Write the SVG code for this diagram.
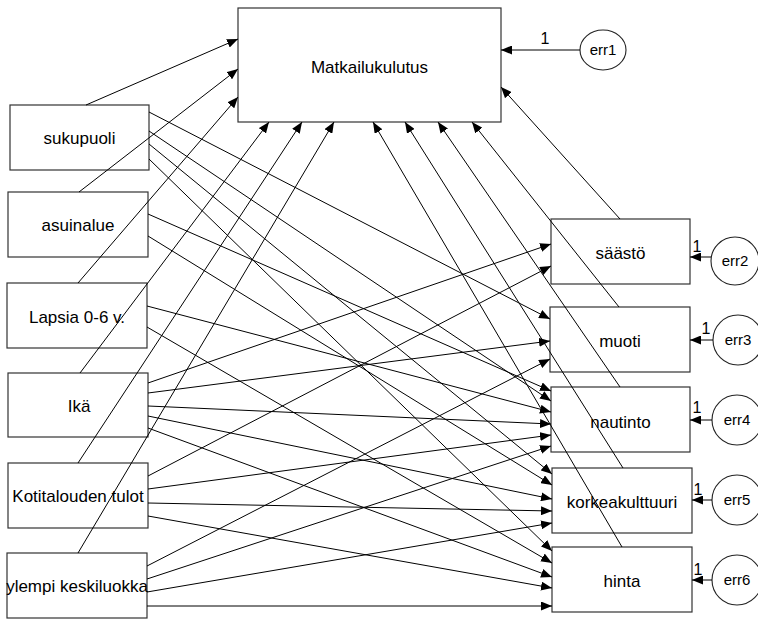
<svg xmlns="http://www.w3.org/2000/svg" width="758" height="619" viewBox="0 0 758 619">
<defs>
<style>
.box{fill:#fff;stroke:#333;stroke-width:1.2}
.err{fill:#fff;stroke:#222;stroke-width:1.1}
.lbl{font-family:"Liberation Sans",Arial,sans-serif;font-size:17px;fill:#000;text-anchor:middle}
.el{font-family:"Liberation Sans",Arial,sans-serif;font-size:15px;fill:#000;text-anchor:middle}
.one{font-family:"Liberation Sans",Arial,sans-serif;font-size:16px;fill:#000;text-anchor:middle}
.c line{stroke:#000;stroke-width:1;marker-end:url(#ah)}
</style>
<marker id="ah" markerUnits="userSpaceOnUse" markerWidth="11" markerHeight="9" refX="11" refY="4.5" orient="auto">
<path d="M0,0 L11,4.5 L0,9 z" fill="#000"/>
</marker>
</defs>
<rect width="758" height="619" fill="#fff"/>

<g id="matkailukulutus"><rect class="box" x="238" y="8" width="263" height="114"/><text class="lbl" x="369.5" y="73">Matkailukulutus</text></g>
<g id="sukupuoli"><rect class="box" x="10" y="105" width="139" height="65"/><text class="lbl" x="79.5" y="144">sukupuoli</text></g>
<g id="asuinalue"><rect class="box" x="8" y="192" width="140" height="65"/><text class="lbl" x="78" y="231">asuinalue</text></g>
<g id="lapsia"><rect class="box" x="7" y="283" width="140" height="65"/><text class="lbl" x="77" y="323">Lapsia 0-6 v.</text></g>
<g id="ika"><rect class="box" x="8" y="373" width="140" height="64"/><text class="lbl" x="79" y="412">Ikä</text></g>
<g id="kotitalous"><rect class="box" x="8" y="463" width="140" height="65"/><text class="lbl" x="78" y="502">Kotitalouden tulot</text></g>
<g id="ylempi"><rect class="box" x="7" y="553" width="140" height="65"/><text class="lbl" x="77" y="592">ylempi keskiluokka</text></g>

<g id="saasto"><rect class="box" x="551" y="219" width="139" height="65"/><text class="lbl" x="620.5" y="259">säästö</text></g>
<g id="muoti"><rect class="box" x="550" y="307" width="140" height="65"/><text class="lbl" x="620" y="347">muoti</text></g>
<g id="nautinto"><rect class="box" x="551" y="387" width="139" height="65"/><text class="lbl" x="620.5" y="428">nautinto</text></g>
<g id="korkeakulttuuri"><rect class="box" x="552" y="468" width="140" height="65"/><text class="lbl" x="622" y="508">korkeakulttuuri</text></g>
<g id="hinta"><rect class="box" x="552" y="547" width="140" height="65"/><text class="lbl" x="622" y="587">hinta</text></g>

<g id="err1"><ellipse class="err" cx="603" cy="50" rx="23" ry="20"/><text class="el" x="603" y="55">err1</text></g>
<g id="err2"><circle class="err" cx="735" cy="261" r="24"/><text class="el" x="735" y="266">err2</text></g>
<g id="err3"><circle class="err" cx="738" cy="340" r="25"/><text class="el" x="738" y="345">err3</text></g>
<g id="err4"><circle class="err" cx="737" cy="420" r="25"/><text class="el" x="737" y="425">err4</text></g>
<g id="err5"><circle class="err" cx="737" cy="500" r="25"/><text class="el" x="737" y="505">err5</text></g>
<g id="err6"><circle class="err" cx="737" cy="580" r="25"/><text class="el" x="737" y="585">err6</text></g>

<g id="connectors" class="c">
<line x1="86" y1="105" x2="238" y2="39"/>
<line x1="79" y1="192" x2="238" y2="69"/>
<line x1="78" y1="283" x2="238" y2="97"/>
<line x1="80" y1="373" x2="269" y2="122"/>
<line x1="78" y1="463" x2="302" y2="122"/>
<line x1="78" y1="553" x2="334" y2="122"/>
<line x1="620" y1="219" x2="501" y2="87"/>
<line x1="619" y1="307" x2="472" y2="122"/>
<line x1="620" y1="387" x2="438" y2="122"/>
<line x1="623" y1="468" x2="405" y2="122"/>
<line x1="622" y1="547" x2="373" y2="122"/>

<line x1="149" y1="112" x2="550" y2="319"/>
<line x1="149" y1="131" x2="551" y2="401"/>
<line x1="149" y1="144" x2="552" y2="474"/>
<line x1="149" y1="159" x2="552" y2="551"/>
<line x1="148" y1="214" x2="551" y2="391"/>
<line x1="148" y1="236" x2="552" y2="485"/>
<line x1="147" y1="306" x2="551" y2="412"/>
<line x1="147" y1="327" x2="552" y2="563"/>
<line x1="148" y1="383" x2="551" y2="244"/>
<line x1="148" y1="393" x2="550" y2="341"/>
<line x1="148" y1="406" x2="551" y2="424"/>
<line x1="148" y1="416" x2="552" y2="499"/>
<line x1="148" y1="428" x2="552" y2="577"/>
<line x1="148" y1="476" x2="551" y2="266"/>
<line x1="148" y1="489" x2="551" y2="435"/>
<line x1="148" y1="503" x2="552" y2="511"/>
<line x1="148" y1="516" x2="552" y2="588"/>
<line x1="147" y1="566" x2="550" y2="359"/>
<line x1="147" y1="579" x2="551" y2="446"/>
<line x1="147" y1="592" x2="552" y2="523"/>
<line x1="147" y1="606" x2="552" y2="606"/>

<line x1="580" y1="50" x2="501" y2="50"/>
<line x1="711" y1="257" x2="690" y2="257"/>
<line x1="713" y1="340" x2="690" y2="340"/>
<line x1="712" y1="420" x2="690" y2="420"/>
<line x1="712" y1="500" x2="692" y2="500"/>
<line x1="712" y1="580" x2="692" y2="580"/>
</g>
<g id="weights">
<text class="one" x="545" y="44">1</text>
<text class="one" x="697" y="252">1</text>
<text class="one" x="706" y="334">1</text>
<text class="one" x="697" y="413">1</text>
<text class="one" x="698" y="495">1</text>
<text class="one" x="698" y="575">1</text>
</g>
</svg>
